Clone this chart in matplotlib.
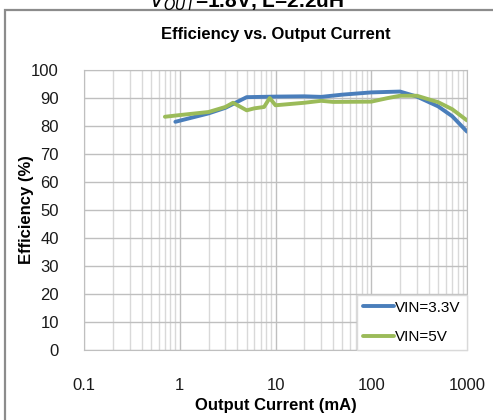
import numpy as np
import matplotlib
matplotlib.use("Agg")
import matplotlib.pyplot as plt
from matplotlib.patches import Rectangle
from matplotlib.ticker import FixedLocator, NullFormatter

plt.rcParams['font.family'] = ['Liberation Sans', 'DejaVu Sans']

# VIN = 3.3V
i_33 = [0.9, 2, 3, 5, 10, 20, 30, 50, 100, 200, 300, 500, 700, 1000]
eff_33 = [81.5, 84.5, 86.5, 90.3, 90.5, 90.6, 90.4, 91.2, 92.0, 92.3, 90.5, 87.0, 83.5, 78.0]

# VIN = 5V
i_5 = [0.7, 1, 2, 3, 3.6, 5, 6, 7.6, 8.7, 10, 20, 30, 40, 100, 150, 200, 300, 500, 700, 1000]
eff_5 = [83.3, 83.9, 85.0, 86.8, 88.3, 85.6, 86.3, 86.8, 90.0, 87.4, 88.3, 89.0, 88.6, 88.7,
         90.0, 90.8, 90.8, 88.5, 86.0, 82.0]

xticks = [0.1, 1, 10, 100, 1000]
xlabels = ['0.1', '1', '10', '100', '1000']
yticks = list(range(0, 101, 10))

fig = plt.figure(figsize=(4.93, 4.20), dpi=100)

# outer frame (partly cut off, like the source screenshot)
fig.patches.append(Rectangle((5/493, -0.2), 1.5, 1.2 - 10/420, transform=fig.transFigure,
                             fill=False, edgecolor='#8c8c8c', lw=1.6))
fig.text(0.5, 1 - 1/420, '$V_{OUT}$=1.8V, L=2.2uH', ha='center', va='center',
         fontsize=15, fontweight='bold')

ax = fig.add_axes([84/493, 1 - 350/420, (467 - 84)/493, 280/420])
ax.set_xscale('log')
ax.set_xlim(0.1, 1000)
ax.set_ylim(0, 100)

ax.plot(i_33, eff_33, color='#4a7ebb', lw=2.8, label='VIN=3.3V', solid_capstyle='round')
ax.plot(i_5, eff_5, color='#9bbb59', lw=2.8, label='VIN=5V', solid_capstyle='round')

ax.set_xticks(xticks)
ax.set_xticklabels(xlabels)
minors = [m * 10.0**e for e in range(-1, 3) for m in range(2, 10)]
ax.xaxis.set_minor_locator(FixedLocator(minors))
ax.xaxis.set_minor_formatter(NullFormatter())
ax.set_yticks(yticks)
ax.grid(True, which='major', color='#bfbfbf', lw=1.0)
ax.grid(True, which='minor', axis='x', color='#d9d9d9', lw=1.0)
ax.set_axisbelow(True)
ax.tick_params(which='both', length=0, labelsize=12, colors='#1a1a1a')
ax.tick_params(axis='x', pad=20)
ax.tick_params(axis='y', pad=18)
for s in ax.spines.values():
    s.set_color('#bfbfbf')

ax.set_title('Efficiency vs. Output Current', fontsize=12, fontweight='bold', pad=22)
ax.set_xlabel('Output Current (mA)', fontsize=12, fontweight='bold', labelpad=4)
ax.set_ylabel('Efficiency (%)', fontsize=12, fontweight='bold', labelpad=-2)

leg = ax.legend(loc='lower right', fontsize=11, frameon=True, fancybox=False,
                edgecolor='#d9d9d9', framealpha=1, borderaxespad=0, handlelength=2.0,
                handletextpad=0.1, labelspacing=1.0)

fig.savefig('out.png', dpi=100)
